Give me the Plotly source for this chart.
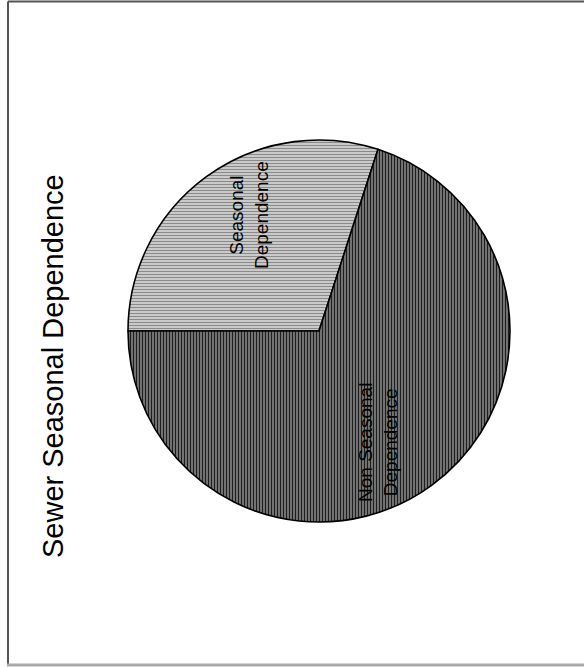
import plotly.graph_objects as go

# Slice data
labels = ["Seasonal Dependence", "Non Seasonal Dependence"]
values = [30, 70]
slice_text = ["Seasonal<br>Dependence", "Non Seasonal<br>Dependence"]
title_text = "Sewer Seasonal Dependence"

W, H = 584, 667

fig = go.Figure(
    go.Pie(
        labels=labels,
        values=values,
        sort=False,
        direction="clockwise",
        rotation=270,
        textinfo="none",
        hoverinfo="label+percent",
        showlegend=False,
        domain=dict(x=[128 / W, 510 / W], y=[(H - 522) / H, (H - 140) / H]),
        marker=dict(
            colors=["#bcbcbc", "#555555"],
            line=dict(color="#000000", width=1.6),
            pattern=dict(
                shape=["-", "|"],
                fgcolor=["#8a8a8a", "#1e1e1e"],
                bgcolor=["#d8d8d8", "#848484"],
                size=3,
                solidity=0.45,
            ),
        ),
    )
)

font_family = "Liberation Sans, Arial, sans-serif"

annotations = [
    # chart title, rotated to read bottom-to-top
    dict(x=53 / W, y=(H - 366) / H, text=title_text, textangle=-90,
         font=dict(size=29, color="#000000", family=font_family)),
    # slice labels
    dict(x=249 / W, y=(H - 215) / H, text=slice_text[0], textangle=-90,
         font=dict(size=19, color="#000000", family=font_family)),
    dict(x=378 / W, y=(H - 443) / H, text=slice_text[1], textangle=-90,
         font=dict(size=19, color="#000000", family=font_family)),
]
for a in annotations:
    a.update(xref="paper", yref="paper", showarrow=False, xanchor="center", yanchor="middle")

# page frame
shapes = [
    dict(type="line", xref="paper", yref="paper", x0=8 / W, x1=1, y0=(H - 1.5) / H, y1=(H - 1.5) / H,
         line=dict(color="#555555", width=2)),
    dict(type="line", xref="paper", yref="paper", x0=8 / W, x1=8 / W, y0=(H - 1.5) / H, y1=(H - 665) / H,
         line=dict(color="#555555", width=2)),
    dict(type="line", xref="paper", yref="paper", x0=7 / W, x1=1, y0=(H - 665) / H, y1=(H - 665) / H,
         line=dict(color="#aaaaaa", width=3)),
]

fig.update_layout(
    width=W,
    height=H,
    margin=dict(l=0, r=0, t=0, b=0),
    paper_bgcolor="#ffffff",
    plot_bgcolor="#ffffff",
    annotations=annotations,
    shapes=shapes,
)

fig.write_html("out.html")
